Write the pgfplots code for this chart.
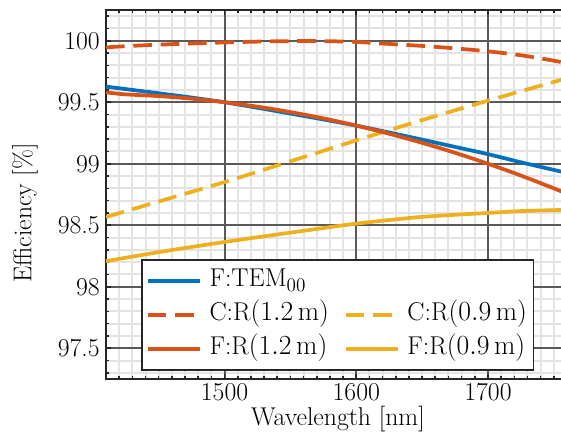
\documentclass[border=0pt]{standalone}
\usepackage{pgfplots}
\pgfplotsset{compat=1.18}
\definecolor{mblue}{rgb}{0,0.447,0.741}
\definecolor{mred}{rgb}{0.85,0.325,0.098}
\definecolor{myel}{rgb}{0.929,0.694,0.125}
\newcommand{\lblfont}{\fontsize{19.3}{23}\selectfont}
\pgfplotsset{
  frame/.style={
    at={(0,0)}, anchor=south west,
    scale only axis, width=345.75pt, height=276.75pt,
    xmin=1410, xmax=1760, ymin=97.25, ymax=100.25,
  },
}
\begin{document}
\begin{tikzpicture}
% light minor grid, underneath everything
\begin{axis}[
  frame,
  xtick={1410,1420,...,1760},
  ytick={97.3,97.4,...,100.21},
  xticklabels={}, yticklabels={},
  grid=major,
  major grid style={line width=1.5pt, color=black!11},
  major tick length=0pt,
  axis line style={draw=none},
]
\end{axis}
% main axis: major grid, ticks, labels and curves
\begin{axis}[
  frame,
  xtick={1500,1600,1700}, xticklabels={1500,1600,1700},
  ytick={97.5,98,98.5,99,99.5,100},
  yticklabels={97.5,98,98.5,99,99.5,100},
  minor xtick={1410,1420,...,1760},
  minor ytick={97.3,97.4,...,100.21},
  grid=major,
  major grid style={line width=1.5pt, color=black!65},
  tick align=inside,
  major tick length=4pt, minor tick length=2.5pt,
  every tick/.style={line width=1.2pt, color=black!85},
  every minor tick/.style={line width=1.2pt, color=black!85},
  axis line style={line width=1.5pt, color=black!85},
  ticklabel style={font=\lblfont},
  xticklabel style={anchor=center, yshift=-10pt},
  yticklabel style={anchor=east, inner sep=0pt, xshift=-4.5pt},
  xlabel={Wavelength [nm]},
  ylabel={Efficiency [\%]},
  label style={font=\lblfont},
  xlabel style={at={(axis description cs:0.503,-0.108)}, anchor=center},
  ylabel style={at={(axis description cs:-0.1757,0.45)}, anchor=center},
  legend columns=2,
  legend cell align=left,
  legend image code/.code={\draw[#1] (0pt,0pt) -- (39pt,0pt);},
  legend style={
    at={(axis description cs:0.0759,0.0217)}, anchor=south west,
    draw=black!85, line width=1.2pt, fill=white, font=\lblfont,
    inner xsep=3pt, inner ysep=5pt, row sep=4pt,
    nodes={text height=13pt, text depth=4.5pt, inner ysep=2pt},
    /tikz/every odd column/.append style={column sep=4pt},
    /tikz/every even column/.append style={column sep=9pt},
  },
]
% fundamental mode
\addplot[mblue, line width=2.8pt, smooth] coordinates {
  (1410,99.627) (1425,99.607) (1450,99.573) (1475,99.538) (1500,99.5)
  (1525,99.455) (1550,99.408) (1575,99.36) (1600,99.31) (1625,99.254)
  (1650,99.196) (1675,99.137) (1700,99.078) (1725,99.012) (1750,98.95)
  (1760,98.925)};
\addlegendentry{F:TEM$_{00}$}
\addlegendimage{empty legend}
\addlegendentry{}
% coupling, R = 1.2 m
\addplot[mred, line width=2.8pt, dash pattern=on 14pt off 6.5pt, smooth] coordinates {
  (1410,99.946) (1425,99.956) (1450,99.968) (1475,99.978) (1500,99.986)
  (1525,99.993) (1550,99.997) (1575,99.997) (1600,99.99) (1625,99.974)
  (1650,99.958) (1675,99.938) (1700,99.914) (1725,99.882) (1750,99.838)
  (1760,99.815)};
\addlegendentry{C:R$(1.2\,\mathrm{m})$}
% coupling, R = 0.9 m
\addplot[myel, line width=2.8pt, dash pattern=on 14pt off 6.5pt, smooth] coordinates {
  (1410,98.567) (1450,98.693) (1500,98.851) (1550,99.02) (1600,99.19)
  (1650,99.355) (1700,99.513) (1730,99.605) (1760,99.695)};
\addlegendentry{C:R$(0.9\,\mathrm{m})$}
% fundamental, R = 1.2 m
\addplot[mred, line width=2.8pt, smooth] coordinates {
  (1410,99.58) (1425,99.564) (1450,99.55) (1475,99.529) (1500,99.5)
  (1525,99.464) (1550,99.42) (1575,99.369) (1600,99.31) (1625,99.244)
  (1650,99.17) (1675,99.089) (1700,99.0) (1725,98.904) (1750,98.80)
  (1760,98.755)};
\addlegendentry{F:R$(1.2\,\mathrm{m})$}
% fundamental, R = 0.9 m
\addplot[myel, line width=2.8pt, smooth] coordinates {
  (1410,98.208) (1451,98.283) (1500,98.364) (1550,98.44) (1600,98.513)
  (1649,98.567) (1700,98.60) (1727,98.616) (1760,98.625)};
\addlegendentry{F:R$(0.9\,\mathrm{m})$}
\end{axis}
\pgfresetboundingbox
\useasboundingbox (-79.5pt,-39.75pt) rectangle (341.25pt,284.25pt);
\end{tikzpicture}
\end{document}
